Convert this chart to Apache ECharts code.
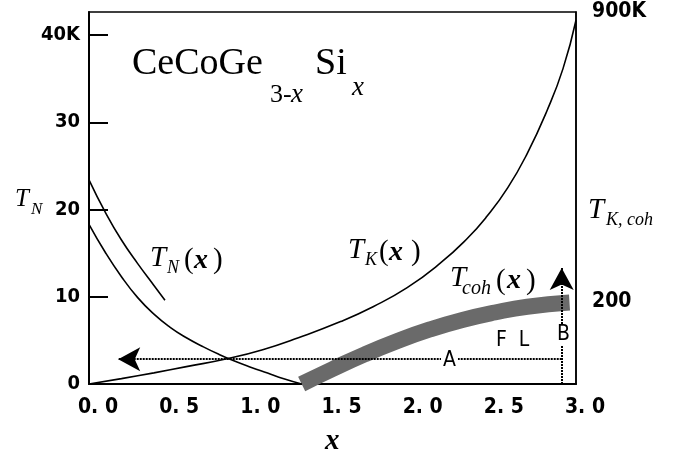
<!DOCTYPE html>
<html><head><meta charset="utf-8">
<script src="https://cdn.jsdelivr.net/npm/echarts@6/dist/echarts.min.js"></script>
<style>html,body{margin:0;padding:0;background:#fff}#c{width:678px;height:462px}</style>
</head><body><div id="c"></div>
<script>
// ---- data ----
const xTicks = [0, 0.5, 1.0, 1.5, 2.0, 2.5, 3.0];
const xTickLabels = ['0. 0', '0. 5', '1. 0', '1. 5', '2. 0', '2. 5', '3. 0'];
const leftTickValues = [0, 10, 20, 30, 40];
const leftTickLabels = ['0', '10', '20', '30', '40K'];
const rightTickValues = [200, 900];
const rightTickLabels = ['200', '900K'];

// T_N branches (left axis, K)
const tnUpperX = [0, 0.1, 0.2, 0.3, 0.4, 0.468];
const tnUpperY = [23.4, 19.7, 16.5, 13.8, 11.3, 9.6];
const tnLowerX = [0, 0.1, 0.2, 0.3, 0.4, 0.5, 0.6, 0.7, 0.8, 0.9, 1.0, 1.1, 1.2, 1.31];
const tnLowerY = [18.3, 15.1, 12.3, 9.9, 8.0, 6.5, 5.3, 4.3, 3.4, 2.6, 1.9, 1.25, 0.6, 0];
// T_K (right axis, K)
const tkX = [0, 0.2, 0.4, 0.6, 0.85, 1.07, 1.29, 1.55, 1.75, 1.96, 2.16, 2.33, 2.45, 2.58, 2.70, 2.82, 2.92, 3.0];
const tkY = [0, 13, 27, 42, 61, 83, 112, 151, 187, 233, 291, 352, 405, 475, 558, 660, 763, 880];
// T_coh band centre (right axis, K)
const tcohX = [1.31, 1.5, 1.7, 1.9, 2.1, 2.3, 2.5, 2.7, 2.96];
const tcohY = [0, 36, 72, 104, 132, 155, 173, 187, 197];
// dotted arrows
const arrowA_X = [2.912, 0.18];
const arrowA_Y = 2.85;
const arrowB_X = 2.912;
const arrowB_Y = [0, 13.3];

const pairs = (xs, ys) => xs.map((x, i) => [x, ys[i]]);

const chart = echarts.init(document.getElementById('c'), null, {renderer: 'canvas'});

const SANS = "'Liberation Sans Narrow','DejaVu Sans Condensed','Liberation Sans',sans-serif";
const SERIF = "'Liberation Serif','DejaVu Serif',serif";

function t(str, x, baseline, size, style, weight, family, bg) {
  const el = {
    type: 'text', x: x, y: baseline - 0.34 * size, z: 100,
    style: {
      text: str, fill: '#000',
      font: (style || 'normal') + ' ' + (weight || 'normal') + ' ' + size + 'px ' + (family || SERIF),
      align: 'left', verticalAlign: 'middle', textAlign: 'left', textVerticalAlign: 'middle'
    }
  };
  if (bg) { el.style.backgroundColor = '#fff'; el.style.padding = [0, 2]; }
  return el;
}

const graphics = [
  // compound title
  t('CeCoGe', 132, 77, 38),
  t('3-', 270, 104, 26),
  t('x', 291, 104, 27, 'italic'),
  t('Si', 315, 77, 38),
  t('x', 352, 97, 27, 'italic'),
  // left axis name T_N
  t('T', 15, 208, 25, 'italic'),
  t('N', 31, 215, 17, 'italic'),
  // T_N(x)
  t('T', 150, 268, 29, 'italic'),
  t('N', 167, 274, 18, 'italic'),
  t('(', 184, 270, 29),
  t('x', 194, 270, 28, 'italic', 'bold'),
  t(')', 213, 270, 29),
  // T_K(x)
  t('T', 348, 260, 29, 'italic'),
  t('K', 365, 266, 18, 'italic'),
  t('(', 379, 262, 29),
  t('x', 389, 262, 28, 'italic', 'bold'),
  t(')', 411, 262, 29),
  // T_coh(x)
  t('T', 450, 288, 29, 'italic'),
  t('coh', 462, 296, 20, 'italic'),
  t('(', 496, 291, 29),
  t('x', 507, 290, 28, 'italic', 'bold'),
  t(')', 526, 291, 29),
  // right axis name
  t('T', 588, 220, 29, 'italic'),
  t('K, coh', 606, 226, 18, 'italic'),
  // x axis title
  t('x', 325, 451, 29, 'italic', 'bold'),
  // region labels
  t('A', 441, 368, 21, 'normal', 'normal', SANS, true),
  t('F  L', 496, 348, 21, 'normal', 'normal', SANS),
  t('B', 555, 342, 21, 'normal', 'normal', SANS, true)
];

const curve = {type: 'line', smooth: true, showSymbol: false, z: 3,
               lineStyle: {color: '#000', width: 1.6}};

const option = {
  animation: false,
  backgroundColor: '#fff',
  grid: {left: 89, right: 102, top: 12, bottom: 78, show: true, borderColor: '#000', borderWidth: 1.5, backgroundColor: 'transparent'},
  xAxis: {
    type: 'value', min: 0, max: 3, interval: 0.5,
    axisLine: {show: true, lineStyle: {color: '#000', width: 2}},
    axisTick: {show: false},
    splitLine: {show: false},
    axisLabel: {
      margin: 13, color: '#000', fontFamily: SANS, fontSize: 21, fontWeight: 'bold',
      padding: [0, 0, 0, 18],
      formatter: v => { const i = xTicks.findIndex(a => Math.abs(a - v) < 1e-6); return i >= 0 ? xTickLabels[i] : ''; }
    }
  },
  yAxis: [{
    type: 'value', min: 0, max: 42.64, interval: 10, position: 'left',
    axisLine: {show: true, lineStyle: {color: '#000', width: 2}},
    axisTick: {show: true, inside: true, length: 19, lineStyle: {color: '#000', width: 2}},
    splitLine: {show: false},
    axisLabel: {
      margin: 9, color: '#000', fontFamily: SANS, fontSize: 20, fontWeight: 'bold',
      showMaxLabel: false,
      formatter: v => { const i = leftTickValues.findIndex(a => Math.abs(a - v) < 1e-6); return i >= 0 ? leftTickLabels[i] : ''; }
    }
  }, {
    type: 'value', min: 0, max: 900, interval: 100, position: 'right',
    axisLine: {show: true, lineStyle: {color: '#000', width: 1.5}},
    axisTick: {show: false},
    splitLine: {show: false},
    axisLabel: {
      margin: 16, color: '#000', fontFamily: SANS, fontSize: 21, fontWeight: 'bold',
      formatter: v => { const i = rightTickValues.findIndex(a => Math.abs(a - v) < 1e-6); return i >= 0 ? rightTickLabels[i] : ''; }
    }
  }],
  series: [
    {type: 'line', name: 'TcohBand', yAxisIndex: 1, data: pairs(tcohX, tcohY), smooth: true, showSymbol: false,
     lineStyle: {color: '#6a6a6a', width: 16, cap: 'butt'}, z: 2, silent: true},
    Object.assign({}, curve, {name: 'TNupper', yAxisIndex: 0, data: pairs(tnUpperX, tnUpperY)}),
    Object.assign({}, curve, {name: 'TNlower', yAxisIndex: 0, data: pairs(tnLowerX, tnLowerY)}),
    Object.assign({}, curve, {name: 'TK', yAxisIndex: 1, data: pairs(tkX, tkY)}),
    {type: 'line', name: 'arrows', yAxisIndex: 0, data: [], showSymbol: false, z: 4,
     markLine: {
       silent: true, animation: false, symbol: ['none', 'arrow'], symbolSize: [18, 22],
       label: {show: false},
       lineStyle: {color: '#000', width: 2, type: [2, 1]},
       data: [
         [{coord: [arrowA_X[0], arrowA_Y]}, {coord: [arrowA_X[1], arrowA_Y]}],
         [{coord: [arrowB_X, arrowB_Y[0]]}, {coord: [arrowB_X, arrowB_Y[1]]}]
       ]
     }}
  ],
  graphic: graphics
};
chart.setOption(option);
</script></body></html>
